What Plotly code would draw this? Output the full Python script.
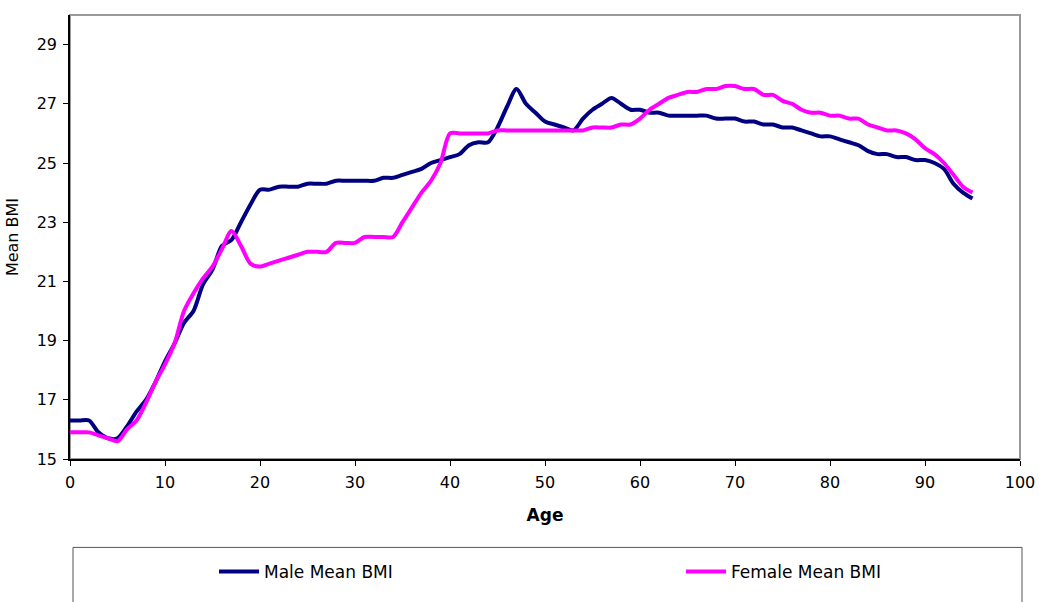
import plotly.graph_objects as go

# ages 0..95
ages = list(range(0, 96))

male_bmi = [
    16.3, 16.3, 16.3, 15.9, 15.7, 15.7, 16.1, 16.6, 17.0, 17.6,
    18.3, 18.9, 19.6, 20.0, 20.9, 21.4, 22.2, 22.4, 23.0, 23.6,
    24.1, 24.1, 24.2, 24.2, 24.2, 24.3, 24.3, 24.3, 24.4, 24.4,
    24.4, 24.4, 24.4, 24.5, 24.5, 24.6, 24.7, 24.8, 25.0, 25.1,
    25.2, 25.3, 25.6, 25.7, 25.7, 26.2, 26.9, 27.5, 27.0, 26.7,
    26.4, 26.3, 26.2, 26.1, 26.5, 26.8, 27.0, 27.2, 27.0, 26.8,
    26.8, 26.7, 26.7, 26.6, 26.6, 26.6, 26.6, 26.6, 26.5, 26.5,
    26.5, 26.4, 26.4, 26.3, 26.3, 26.2, 26.2, 26.1, 26.0, 25.9,
    25.9, 25.8, 25.7, 25.6, 25.4, 25.3, 25.3, 25.2, 25.2, 25.1,
    25.1, 25.0, 24.8, 24.3, 24.0, 23.8,
]

female_bmi = [
    15.9, 15.9, 15.9, 15.8, 15.7, 15.6, 16.0, 16.3, 16.9, 17.6,
    18.2, 18.9, 20.0, 20.6, 21.1, 21.5, 22.1, 22.7, 22.2, 21.6,
    21.5, 21.6, 21.7, 21.8, 21.9, 22.0, 22.0, 22.0, 22.3, 22.3,
    22.3, 22.5, 22.5, 22.5, 22.5, 23.0, 23.5, 24.0, 24.4, 25.0,
    26.0, 26.0, 26.0, 26.0, 26.0, 26.1, 26.1, 26.1, 26.1, 26.1,
    26.1, 26.1, 26.1, 26.1, 26.1, 26.2, 26.2, 26.2, 26.3, 26.3,
    26.5, 26.8, 27.0, 27.2, 27.3, 27.4, 27.4, 27.5, 27.5, 27.6,
    27.6, 27.5, 27.5, 27.3, 27.3, 27.1, 27.0, 26.8, 26.7, 26.7,
    26.6, 26.6, 26.5, 26.5, 26.3, 26.2, 26.1, 26.1, 26.0, 25.8,
    25.5, 25.3, 25.0, 24.6, 24.2, 24.0,
]

x_ticks = [0, 10, 20, 30, 40, 50, 60, 70, 80, 90, 100]
y_ticks = [15, 17, 19, 21, 23, 25, 27, 29]

FONT = "DejaVu Sans, Verdana, sans-serif"

# plot area in pixels: x 70..1020, y ~11..463
PW, PH = 950, 452

fig = go.Figure()

fig.add_trace(go.Scatter(
    x=ages, y=male_bmi, name="Male Mean BMI", mode="lines",
    line=dict(color="#000080", width=4, shape="spline", smoothing=0.8),
    legend="legend",
))
fig.add_trace(go.Scatter(
    x=ages, y=female_bmi, name="Female Mean BMI", mode="lines",
    line=dict(color="#FF00FF", width=4, shape="spline", smoothing=0.8),
    legend="legend2",
))

# plot area frame (grey top/right) and legend box
fig.add_shape(type="rect", xref="paper", yref="paper", x0=0, x1=1, y0=0, y1=1,
              line=dict(color="#999999", width=2), layer="below")
fig.add_shape(type="rect", xref="paper", yref="paper",
              x0=3 / PW, x1=952 / PW, y0=(463 - 553) / PH, y1=(463 - 640) / PH,
              line=dict(color="#555555", width=1))

leg_common = dict(
    orientation="h", xanchor="left",
    y=(463 - 578) / PH, yanchor="middle",
    font=dict(size=17, family=FONT),
    itemwidth=40,
    bgcolor="rgba(0,0,0,0)",
)

fig.update_layout(
    width=1039, height=602,
    margin=dict(l=70, r=19, t=15, b=135),
    paper_bgcolor="white", plot_bgcolor="white",
    font=dict(family=FONT, color="black", size=15),
    showlegend=True,
    legend=dict(x=(214 - 70) / PW, **leg_common),
    legend2=dict(x=(681 - 70) / PW, **leg_common),
    xaxis=dict(
        range=[0, 100], tickvals=x_ticks, showgrid=False, zeroline=False,
        showline=True, linecolor="black", linewidth=1.5,
        ticks="outside", ticklen=5, tickcolor="black",
        tickfont=dict(size=16), automargin=False, ticklabelstandoff=3,
        title=dict(text="<b>Age</b>", font=dict(size=17), standoff=18),
    ),
    yaxis=dict(
        range=[15, 30], tickvals=y_ticks, showgrid=False, zeroline=False,
        showline=True, linecolor="black", linewidth=1.5,
        ticks="outside", ticklen=5, tickcolor="black",
        tickfont=dict(size=16), automargin=False, ticklabelstandoff=3,
        title=dict(text="Mean BMI", font=dict(size=16), standoff=14),
    ),
)

# drop the default page margin and scrollbars so the figure fills the window exactly
page_css = ("document.body.style.margin='0';"
            "document.body.style.overflow='hidden';"
            "document.documentElement.style.overflow='hidden';")
fig.write_html("out.html", post_script=page_css,
               config={"displayModeBar": False})
